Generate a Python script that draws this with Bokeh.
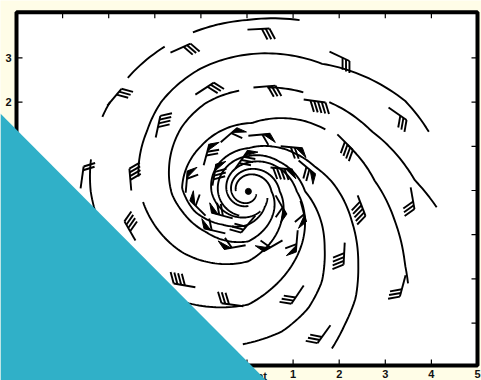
import math
from bokeh.plotting import figure
from bokeh.models import Range1d
from bokeh.embed import file_html
from bokeh.resources import INLINE
from bokeh.core.properties import value

# ---------------- data ----------------
x_ticks = [-5, -4, -3, -2, -1, 0, 1, 2, 3, 4, 5]
y_ticks = [-3, -2, -1, 0, 1, 2, 3]
x_tick_labels = ["-5", "-4", "-3", "-2", "-1", "0", "1", "2", "3", "4", "5"]
y_tick_labels = ["-3", "-2", "-1", "0", "1", "2", "3"]
x_lo, x_hi = -5.0, 5.0
y_lo, y_hi = -3.96, 4.03

# storm centre
center_x, center_y = 0.03, -0.02

# streamlines: anchors (angle in degrees, counter-clockwise, radius)
arm_o1 = [(74, 4.03), (90, 3.88), (120, 3.74), (150, 3.6), (180, 3.42), (225, 3.05), (270, 2.56),
          (315, 1.65), (360, 1.05), (405, 0.82), (450, 0.65), (540, 0.47), (630, 0.33)]
arm_a2 = [(19, 4.14), (31, 3.97), (42, 3.71), (61, 3.3), (90, 3.1), (111, 2.96), (133, 2.77),
          (148, 2.59), (180, 2.35), (225, 1.98), (270, 1.58), (315, 1.0), (360, 0.68),
          (450, 0.5), (540, 0.37), (630, 0.26), (700, 0.18)]
arm_r3 = [(-5, 4.1), (4, 3.62), (27, 3.0), (53, 2.62), (71, 2.46), (90, 2.31), (115, 2.2),
          (135, 2.05), (163, 1.8), (182, 1.66), (198, 1.5), (225, 1.3), (270, 1.13),
          (315, 0.75), (360, 0.5), (450, 0.38), (540, 0.27)]
arm_r4 = [(-31, 4.04), (-26, 3.78), (-12, 3.25), (5, 2.75), (28, 2.36), (53, 2.0), (87, 1.55),
          (135, 1.45), (177, 1.44), (201, 1.25), (233, 0.94), (270, 0.75), (315, 0.5), (340, 0.44)]
arm_r5 = [(-63, 3.99), (-55, 3.66), (-46, 3.35), (-35, 2.91), (-17, 2.35), (7, 1.82), (21, 1.55),
          (40, 1.33), (63, 1.14), (89, 0.98), (135, 0.9), (180, 0.8), (270, 0.58), (300, 0.52)]
arm_r6 = [(-92, 3.46), (-77, 3.25), (-64, 2.95), (-52, 2.59), (-38, 2.1), (-25, 1.76), (0, 1.23),
          (45, 0.95), (90, 0.8), (135, 0.72), (180, 0.66), (250, 0.58)]

# visible pieces of each streamline (angle ranges, degrees)
pieces_o1 = [(74, 109), (119, 136), (146, 152), (168, 630)]
pieces_a2 = [(19, 172), (186, 700)]
pieces_r3 = [(-5, 50), (62, 80), (95, 540)]
pieces_r4 = [(-31, 26), (40, 340)]
pieces_r5 = [(-63, 300)]
pieces_r6 = [(-92, 250)]

# wind barbs: station x, y, upwind direction (deg), full feathers, half feathers, pennants
barb_x = [0.01, -1.66, -3.03, -3.61, 1.79, -1.12, 0.14, 1.23, 3.07, 1.96, 3.55, -1.98, -2.51,
          -2.42, -1.12, -0.08, 1.23, 1.81, 2.12, 2.40, 3.44,
          -0.57, 0.03, 0.73, 0.51, 1.12, -0.25, -0.75, -0.94, -1.33, -0.90, -0.31, -0.47,
          0.18, 0.62, 1.16, 1.10, 0.77, -0.03]
barb_y = [3.64, 3.12, 1.92, 0.05, 3.14, 2.17, 2.33, 2.06, 1.88, 1.27, 0.07, 1.20, 0.00,
          -1.13, -2.19, -2.62, -2.15, -3.05, -1.18, -0.11, -1.92,
          1.09, 1.24, 1.00, 0.52, 0.68, 0.50, 0.11, 0.57, -0.05, -0.57, -0.63, -0.97,
          -0.57, -0.11, -0.23, -0.90, -1.13, -1.24]
barb_dir = [3, 24, 50, 82, -25, 33, 5, -8, -35, -45, -80, 78, 95,
            120, 170, 172, -124, -126, -93, -69, -105,
            41, 5, -5, -5, -40, 55, 80, 75, 85, 135, 165, 167,
            -130, -60, -75, -95, -150, -170]
barb_full = [3, 3, 3, 2, 3, 3, 3, 5, 3, 4, 3, 4, 4,
             4, 4, 3, 3, 3, 4, 5, 3,
             1, 1, 2, 4, 2, 3, 3, 2, 1, 1, 2, 1,
             3, 1, 1, 1, 1, 1]
barb_half = [0] * len(barb_x)
barb_flag = [0] * 21 + [1, 1, 1, 1, 1, 1, 1, 1, 1, 1, 1, 1, 0, 1, 1, 1, 1, 1]

# corner decoration (teal triangle) in axis units
corner_x = [-5.35, -5.35, 0.42]
corner_y = [1.74, -4.30, -4.30]

# ---------------- figure ----------------
W, H = 481, 380
KX, KY = 46.1, 44.2          # pixels per unit
XL, XR = x_lo - 16 / KX, x_hi + 4 / KX
YB, YT = -190 / KY, 190 / KY

p = figure(width=W, height=H, output_backend="svg", toolbar_location=None,
           x_range=Range1d(XL, XR), y_range=Range1d(YB, YT), min_border=0,
           x_axis_location=None, y_axis_location=None)
p.background_fill_color = "#FFFDE7"
p.border_fill_color = "#FFFDE7"
p.outline_line_color = None
p.xgrid.visible = False
p.ygrid.visible = False

# plot box
p.quad(left=[x_lo], right=[x_hi], bottom=[y_lo], top=[y_hi], fill_color="white",
       line_color="black", line_width=4)

# ticks (inside)
T = 6.0
inner_x = x_ticks[1:-1]
inner_y = y_ticks
p.segment(inner_x, [y_lo] * len(inner_x), inner_x, [y_lo + T / KY] * len(inner_x), line_color="black", line_width=1.2)
p.segment(inner_x, [y_hi] * len(inner_x), inner_x, [y_hi - T / KY] * len(inner_x), line_color="black", line_width=1.2)
p.segment([x_lo] * len(inner_y), inner_y, [x_lo + T / KX] * len(inner_y), inner_y, line_color="black", line_width=1.2)
p.segment([x_hi] * len(inner_y), inner_y, [x_hi - T / KX] * len(inner_y), inner_y, line_color="black", line_width=1.2)

# tick labels
p.text(x_ticks, [y_lo] * len(x_ticks), text=x_tick_labels, y_offset=4, text_align="center",
       text_baseline="top", text_font=value("Liberation Sans"), text_font_style="bold",
       text_font_size="11px", text_color="#111111")
p.text([x_lo] * len(y_ticks), y_ticks, text=y_tick_labels, x_offset=-5, text_align="right",
       text_baseline="middle", text_font=value("Liberation Sans"), text_font_style="bold",
       text_font_size="11px", text_color="#111111")
p.text([0.22], [y_lo], text=["at"], y_offset=4, text_align="left", text_baseline="top",
       text_font=value("Liberation Sans"), text_font_style="bold", text_font_size="11px",
       text_color="#111111")

# streamlines
def arm_curve(anchors, a0, a1):
    xs, ys = [], []
    t = a0
    while t <= a1 + 1e-9:
        for (t0, r0), (t1, r1) in zip(anchors[:-1], anchors[1:]):
            if t0 <= t <= t1:
                f = (t - t0) / (t1 - t0)
                r = math.exp(math.log(r0) + f * (math.log(r1) - math.log(r0)))
                a = math.radians(t)
                xs.append(center_x + r * math.cos(a))
                ys.append(center_y + r * math.sin(a))
                break
        t += 1.5
    return xs, ys

line_xs, line_ys = [], []
for anchors, pieces in [(arm_o1, pieces_o1), (arm_a2, pieces_a2), (arm_r3, pieces_r3),
                        (arm_r4, pieces_r4), (arm_r5, pieces_r5), (arm_r6, pieces_r6)]:
    for a0, a1 in pieces:
        cx, cy = arm_curve(anchors, a0, a1)
        line_xs.append(cx)
        line_ys.append(cy)
p.multi_line(line_xs, line_ys, line_color="black", line_width=1.9)

# barbs drawn with pixel-sized geometry
SHAFT, FEAT, STEP, ANG = 22.0, 12.0, 3.8, 65.0
seg_x0, seg_y0, seg_x1, seg_y1 = [], [], [], []
tri_xs, tri_ys = [], []
for bx, by, bd, nf, nh, ng in zip(barb_x, barb_y, barb_dir, barb_full, barb_half, barb_flag):
    a = math.radians(bd)
    dx, dy = math.cos(a), math.sin(a)
    fa = math.radians(bd - ANG)
    fx, fy = math.cos(fa), math.sin(fa)
    ex, ey = bx + dx * SHAFT / KX, by + dy * SHAFT / KY
    seg_x0.append(bx); seg_y0.append(by); seg_x1.append(ex); seg_y1.append(ey)
    pos = 0.0
    for _ in range(ng):
        b1x, b1y = ex - dx * pos / KX, ey - dy * pos / KY
        b2x, b2y = ex - dx * (pos + 7) / KX, ey - dy * (pos + 7) / KY
        apx, apy = b1x + fx * 10 / KX, b1y + fy * 10 / KY
        tri_xs.append([b1x, apx, b2x]); tri_ys.append([b1y, apy, b2y])
        pos += 8
    for _ in range(nf):
        sx, sy = ex - dx * pos / KX, ey - dy * pos / KY
        seg_x0.append(sx); seg_y0.append(sy)
        seg_x1.append(sx + fx * FEAT / KX); seg_y1.append(sy + fy * FEAT / KY)
        pos += STEP
    for _ in range(nh):
        sx, sy = ex - dx * pos / KX, ey - dy * pos / KY
        seg_x0.append(sx); seg_y0.append(sy)
        seg_x1.append(sx + fx * FEAT * 0.5 / KX); seg_y1.append(sy + fy * FEAT * 0.5 / KY)
        pos += STEP

p.segment(seg_x0, seg_y0, seg_x1, seg_y1, line_color="black", line_width=1.9)
p.patches(tri_xs, tri_ys, fill_color="black", line_color="black", line_width=1)

p.scatter([center_x], [center_y], size=6, color="black")

# teal corner on top
p.patch(corner_x, corner_y, fill_color="#30B0C8", line_color=None)

open("out.html", "w").write(file_html(p, INLINE))
